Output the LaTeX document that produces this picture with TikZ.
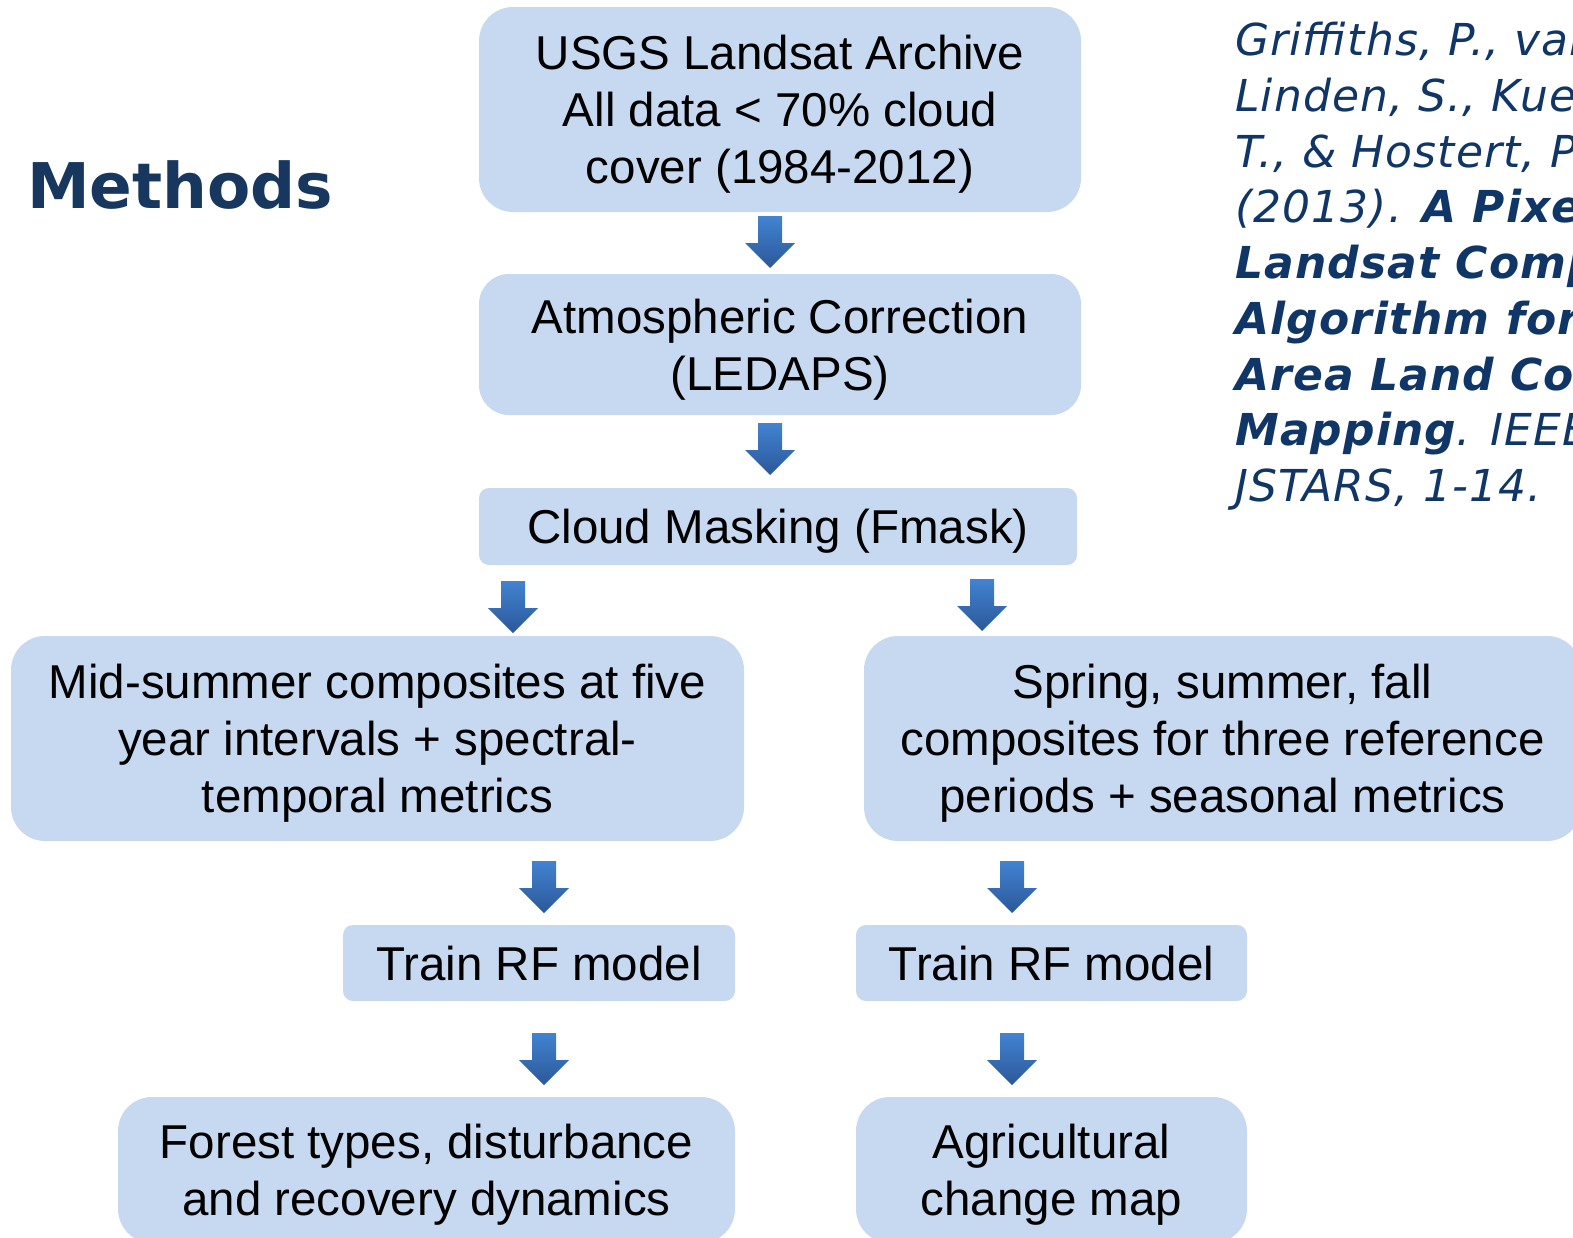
\documentclass[tikz,border=0pt]{standalone}
\usepackage{fontspec}
\setmainfont{Liberation Sans}
\newfontfamily\citefont{DejaVu Sans}
\newfontfamily\refsfont[LetterSpace=2.5]{DejaVu Sans}
\definecolor{boxfill}{RGB}{198,217,241}
\definecolor{arrowtop}{RGB}{66,131,210}
\definecolor{arrowbot}{RGB}{43,88,152}
\definecolor{titleblue}{RGB}{23,55,94}
\definecolor{citeblue}{RGB}{16,54,104}

\begin{document}
\begin{tikzpicture}[x=1pt,y=-1pt,
  box/.style={fill=boxfill,rounded corners=#1,inner sep=0pt,align=center,text depth=0pt,
    font=\fontsize{47.5}{57}\selectfont},
  box/.default=34pt,
  downarrow/.pic={\shade[top color=arrowtop,bottom color=arrowbot]
    (-12,0) -- (12,0) -- (12,27) -- (25,27) -- (0,52) -- (-25,27) -- (-12,27) -- cycle;}]
  \useasboundingbox (0,0) rectangle (1573,1237);
  \clip (0,0) rectangle (1573,1237);

  \node[anchor=west,inner sep=0pt,text=titleblue,
    font=\citefont\bfseries\fontsize{63}{70}\selectfont] (title) at (27,185) {Methods};
  \node[anchor=north west,inner sep=0pt,align=left,text=citeblue,
    font=\refsfont\itshape\fontsize{44}{55.75}\selectfont] (cite) at (1235,22)
    {Griffiths, P., van\\Linden, S., Kuemmerle,\\T., \& Hostert, P.\\(2013). \textbf{A Pixel-Based}\\
     \textbf{Landsat Compositing}\\\textbf{Algorithm for}\\\textbf{Area Land Cover}\\
     \textbf{Mapping}. IEEE\\JSTARS, 1-14.};

  \node[box,minimum width=602pt,minimum height=205pt] (arch) at (780,109.5)
    {USGS Landsat Archive\\All data < 70\% cloud\\cover (1984-2012)};
  \node[box=30pt,minimum width=602pt,minimum height=141pt] (atmo) at (780,344.5)
    {Atmospheric Correction\\(LEDAPS)};
  \node[box=10pt,minimum width=598pt,minimum height=77pt] (mask) at (778,526.5)
    {Cloud Masking (Fmask)};
  \node[box,minimum width=733pt,minimum height=205pt] (mid) at (377.5,738.5)
    {Mid-summer composites at five\\year intervals + spectral-\\temporal metrics};
  \node[box,minimum width=717pt,minimum height=205pt] (season) at (1222.5,738.5)
    {Spring, summer, fall\\composites for three reference\\periods + seasonal metrics};
  \node[box=10pt,minimum width=392pt,minimum height=76pt] (trainA) at (539,963)
    {Train RF model};
  \node[box=10pt,minimum width=391pt,minimum height=76pt] (trainB) at (1051.5,963)
    {Train RF model};
  \node[box,minimum width=617pt,minimum height=146pt] (forest) at (426.5,1170)
    {Forest types, disturbance\\and recovery dynamics};
  \node[box,minimum width=391pt,minimum height=146pt] (agri) at (1051.5,1170)
    {Agricultural\\change map};

  \foreach \x/\y in {770/216,770/423,513/581,982/579,544/861,1012/861,544/1033,1012/1033}
    \pic at (\x,\y) {downarrow};
\end{tikzpicture}
\end{document}
